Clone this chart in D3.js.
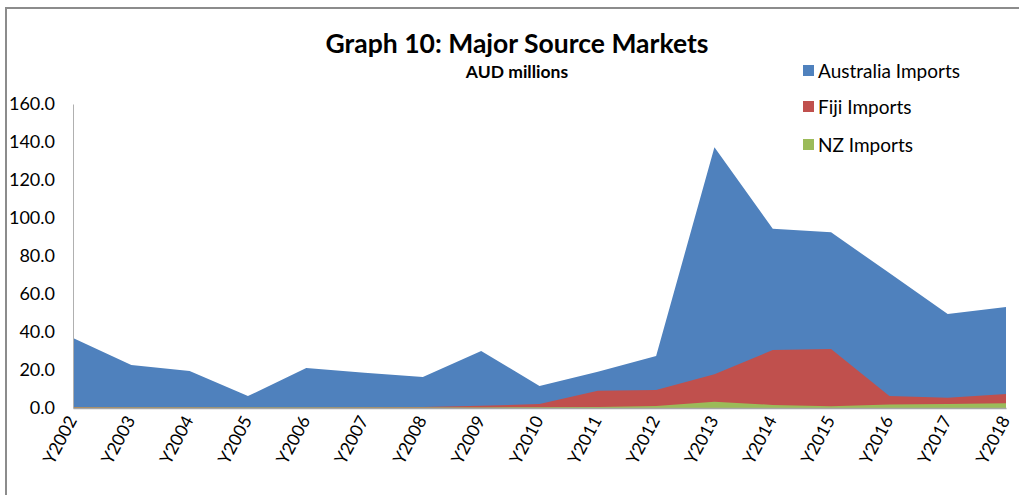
<!DOCTYPE html>
<html><head><meta charset="utf-8">
<script src="https://cdn.jsdelivr.net/npm/d3@7"></script>
<style>body{margin:0;background:#fff}svg{display:block}</style>
</head><body>
<script>
const years = ["Y2002","Y2003","Y2004","Y2005","Y2006","Y2007","Y2008","Y2009","Y2010","Y2011","Y2012","Y2013","Y2014","Y2015","Y2016","Y2017","Y2018"];
const australia = [36.8,22.6,19.5,6.3,21.0,18.5,16.3,30.0,11.6,19.1,27.4,137.2,94.4,92.5,71.0,49.5,53.2];
const fiji = [0.5,0.4,0.4,0.3,0.3,0.4,0.5,1.2,2.1,9.1,9.5,17.7,30.5,31.0,6.3,5.4,7.4];
const nz = [0.2,0.2,0.3,0.2,0.2,0.3,0.3,0.3,0.4,0.5,1.0,3.3,1.6,0.9,1.9,2.1,2.5];
const yTicks = [0,20,40,60,80,100,120,140,160];
const seriesNames = ["Australia Imports","Fiji Imports","NZ Imports"];
const colors = ["#4F81BD","#C0504D","#9BBB59"];

const W=1019,H=495;
const svg=d3.select("body").append("svg").attr("width",W).attr("height",H);
const font="Lato, Carlito, Calibri, sans-serif";

// frame
svg.append("path").attr("d","M6,495 V8 H1019").attr("fill","none").attr("stroke","#8c8c8c").attr("stroke-width",2);

const x=d3.scalePoint().domain(years).range([73,1006]);
const y=d3.scaleLinear().domain([0,160]).range([408,104]);

const series=[australia,fiji,nz];
series.forEach((vals,i)=>{
  const area=d3.area().x((d,j)=>x(years[j])).y0(y(0)).y1(d=>y(d));
  svg.append("path").attr("d",area(vals)).attr("fill",colors[i]);
});

// axes
const yAxis=svg.append("g").attr("transform","translate(73,0)").call(d3.axisLeft(y).tickValues(yTicks).tickFormat(d3.format(".1f")).tickSize(0).tickPadding(18));
yAxis.select(".domain").attr("stroke","#b0b0b0");
yAxis.selectAll("text").attr("font-family",font).attr("font-size",18).attr("fill","#000");

const xAxis=svg.append("g").attr("transform","translate(0,408)").call(d3.axisBottom(x).tickSize(0).tickPadding(0));
xAxis.select(".domain").attr("stroke","#a6a6a6").attr("stroke-width",1.5);
xAxis.selectAll("text").attr("font-family",font).attr("font-size",17.5).attr("fill","#000")
  .attr("text-anchor","end").attr("dy",0).attr("y",0)
  .attr("transform","translate(4,12) rotate(-62)");

// title
svg.append("text").attr("x",517).attr("y",53).attr("text-anchor","middle").attr("font-family",font).attr("font-weight","bold").attr("font-size",26.5).text("Graph 10: Major Source Markets");
svg.append("text").attr("x",517).attr("y",78).attr("text-anchor","middle").attr("font-family",font).attr("font-weight","bold").attr("font-size",17.5).text("AUD millions");

// legend
const legY=[71,107,145];
seriesNames.forEach((n,i)=>{
  svg.append("rect").attr("x",803).attr("y",legY[i]-6).attr("width",11).attr("height",11).attr("fill",colors[i]);
  svg.append("text").attr("x",818).attr("y",legY[i]).attr("dy","0.35em").attr("font-family",font).attr("font-size",19).attr("fill","#000").text(n);
});
</script>
</body></html>
